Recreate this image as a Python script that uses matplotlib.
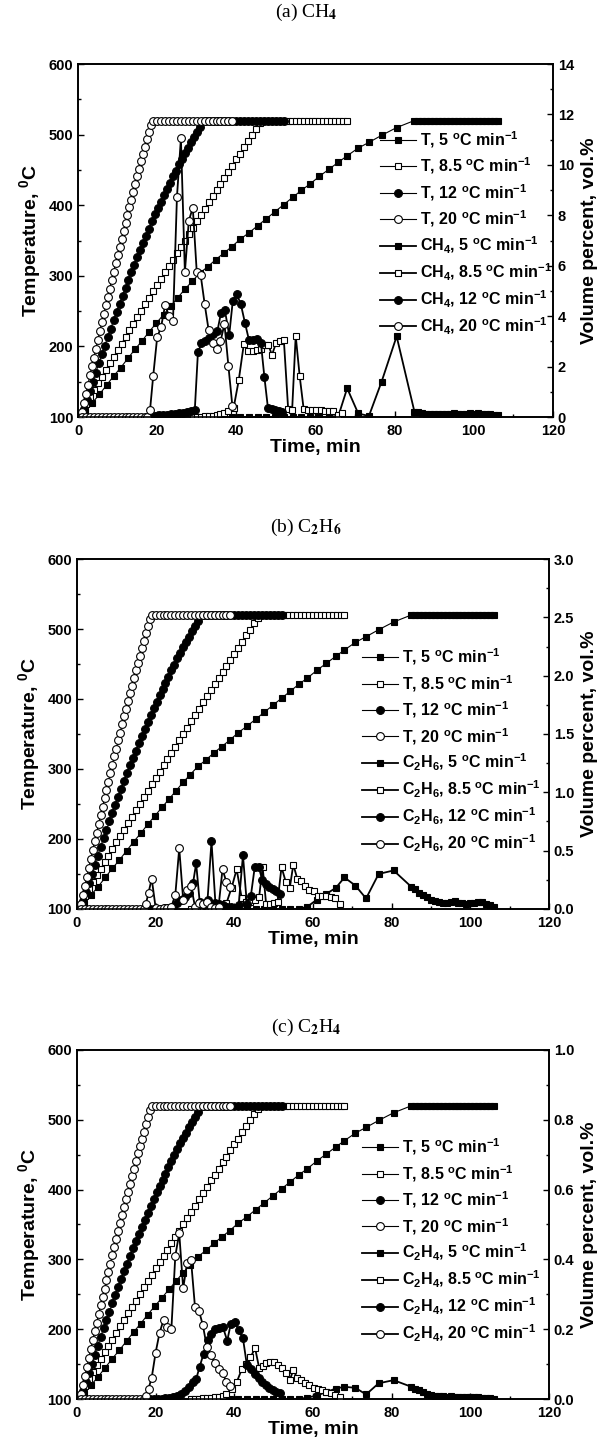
import matplotlib
matplotlib.use('Agg')
import matplotlib.pyplot as plt
from matplotlib.ticker import MultipleLocator, FormatStrFormatter

plt.rcParams['font.family'] = ['Liberation Sans', 'DejaVu Sans']
plt.rcParams['font.weight'] = 'bold'
plt.rcParams['mathtext.fontset'] = 'custom'
plt.rcParams['mathtext.rm'] = 'Liberation Sans:bold'
plt.rcParams['mathtext.it'] = 'Liberation Sans:bold'
plt.rcParams['mathtext.bf'] = 'Liberation Sans:bold'
plt.rcParams['axes.linewidth'] = 1.2

# temperature programmes (same in all three panels)
t_T5 = [1.8, 3.6, 5.4, 7.2, 9.0, 10.8, 12.6, 14.4, 16.2, 18.0, 19.8, 21.6, 23.4, 25.2, 27.0,
        28.8, 30.8, 32.8, 34.8, 36.8, 38.8, 41.0, 43.2, 45.4, 47.6, 49.8, 52.0, 54.2, 56.4,
        58.6, 61.0, 63.4, 65.8, 68.0, 70.8, 73.5, 76.7, 80.5, 85.0,
        86, 87, 88, 89, 90, 91, 92, 93, 94, 95, 96, 97, 98, 99, 100, 101, 102, 103, 104, 105, 106]
T5 = [107, 120, 132, 145, 158, 170, 183, 196, 208, 221, 233, 245, 257, 269, 281, 292, 304,
      313, 323, 332, 341, 352, 361, 371, 381, 391, 401, 411, 421, 430, 441, 451, 461, 470,
      481, 489, 499, 510, 520,
      520, 520, 520, 520, 520, 520, 520, 520, 520, 520, 520, 520, 520, 520, 520, 520, 520,
      520, 520, 520, 520]

t_T85 = [2, 3, 4, 5, 6, 7, 8, 9, 10, 11, 12, 13, 14, 15, 16, 17, 18, 19, 20, 21, 22, 23, 24,
         25, 26, 27, 28, 29, 30, 31, 32, 33, 34, 35, 36, 37, 38, 39, 40, 41, 42, 43, 44, 45, 46,
         47, 48, 49, 50, 51, 52, 53, 54, 55, 56, 57, 58, 59, 60, 61, 62, 63, 64, 65, 66, 67, 68]
T85 = [119, 129, 138, 148, 157, 167, 176, 185, 195, 204, 213, 223, 232, 241, 250, 260, 269,
       278, 287, 296, 305, 314, 323, 332, 341, 350, 359, 368, 377, 386, 395, 404, 413, 421,
       430, 439, 447, 456, 465, 473, 482, 491, 499, 508, 516,
       520, 520, 520, 520, 520, 520, 520, 520, 520, 520, 520, 520, 520, 520, 520, 520, 520,
       520, 520, 520, 520, 520]

t_T12 = [1.5, 2.25, 3.0, 3.75, 4.5, 5.25, 6.0, 6.75, 7.5, 8.25, 9.0, 9.75, 10.5, 11.25, 12.0,
         12.75, 13.5, 14.25, 15.0, 15.75, 16.5, 17.25, 18.0, 18.75, 19.5, 20.25, 21.0, 21.75,
         22.5, 23.25, 24.0, 24.75, 25.5, 26.25, 27.0, 27.75, 28.5, 29.25, 30.0, 30.75,
         32, 33, 34, 35, 36, 37, 38, 39, 40, 41, 42, 43, 44, 45, 46, 47, 48, 49, 50, 51, 52]
T12 = [111, 124, 137, 150, 163, 176, 189, 201, 213, 225, 237, 249, 260, 272, 283, 294, 305,
       316, 326, 337, 347, 357, 367, 377, 387, 396, 405, 414, 423, 432, 441, 449, 458, 466,
       474, 481, 489, 497, 504, 511,
       520, 520, 520, 520, 520, 520, 520, 520, 520, 520, 520, 520, 520, 520, 520, 520, 520,
       520, 520, 520, 520]

t_T20 = [1.0, 1.5, 2.0, 2.5, 3.0, 3.5, 4.0, 4.5, 5.0, 5.5, 6.0, 6.5, 7.0, 7.5, 8.0, 8.5, 9.0,
         9.5, 10.0, 10.5, 11.0, 11.5, 12.0, 12.5, 13.0, 13.5, 14.0, 14.5, 15.0, 15.5, 16.0,
         16.5, 17.0, 17.5, 18.0, 18.5,
         19, 20, 21, 22, 23, 24, 25, 26, 27, 28, 29, 30, 31, 32, 33, 34, 35, 36, 37, 38, 39]
T20 = [107, 120, 133, 146, 159, 172, 184, 197, 209, 222, 234, 246, 258, 270, 282, 294, 306,
       318, 329, 341, 352, 364, 375, 386, 397, 408, 419, 430, 441, 452, 462, 473, 483, 494,
       504, 514,
       520, 520, 520, 520, 520, 520, 520, 520, 520, 520, 520, 520, 520, 520, 520, 520, 520,
       520, 520, 520, 520]

# gas sampling times
t_gas5 = [38.8, 41.0, 43.2, 45.4, 47.6, 49.8, 52.0, 54.2, 56.4, 58.6, 61.0, 63.4, 65.8, 68.0,
          70.8, 73.5, 76.7, 80.5, 85.0,
          86, 87, 88, 89, 90, 91, 92, 93, 94, 95, 96, 97, 98, 99, 100, 101, 102, 103, 104, 105, 106]
t_gas85 = [29, 30, 31, 32, 33, 34, 35, 36, 37, 38, 39.3, 40.6, 41.9, 43.0, 44.1, 45.3, 46.3,
           47.2, 48.1, 49.0, 50.0, 51.0, 52.0, 53.1, 54.1, 55.0, 56.0, 57.0, 58.1, 59.1, 60.2,
           61.3, 62.3, 63.4, 64.5, 65.6, 66.8]
t_gas12 = [18.5, 19.5, 20.5, 21.5, 22.5, 23.5, 24.5, 25.5, 26.5, 27.5, 28.5, 29.5, 30.3, 31.2,
           32.2, 33.2, 34.2, 35.2, 36.1, 37.1, 38.2, 39.1, 40.1, 41.1, 42.2, 43.2, 44.2, 45.2,
           46.2, 47.1, 48.0, 48.9, 49.8, 50.7, 51.6]
t_gas20 = [1, 2, 3, 4, 5, 6, 7, 8, 9, 10, 11, 12, 13, 14, 15, 16, 17, 17.5, 18.2, 19, 20, 21,
           22, 23, 24, 25, 26, 27, 28, 29, 30, 31, 32, 33, 34, 35, 36, 37, 38, 39]

# (a) CH4, vol.%
ch4_5 = [0, 0, 0, 0, 0, 0, 0, 0, 0, 0, 0, 0, 0.05, 1.14, 0.14, 0.04, 1.4, 3.2, 0.21,
         0.18, 0.15, 0.13, 0.12, 0.1, 0.1, 0.12, 0.13, 0.12, 0.14, 0.12, 0.1, 0.12, 0.14,
         0.13, 0.15, 0.12, 0.13, 0.1, 0.08, 0.07]
ch4_85 = [0.0, 0.01, 0.02, 0.03, 0.04, 0.05, 0.07, 0.1, 0.15, 0.22, 0.35, 1.45, 2.9, 2.6,
          2.62, 2.66, 2.7, 2.87, 2.86, 2.46, 2.92, 3.0, 3.07, 0.3, 0.28, 3.22, 1.63, 0.33,
          0.28, 0.27, 0.26, 0.26, 0.25, 0.25, 0.24, 0.08, 0.17]
ch4_12 = [0.05, 0.06, 0.07, 0.08, 0.09, 0.1, 0.12, 0.14, 0.16, 0.19, 0.22, 0.26, 2.57, 2.92,
          3.03, 3.12, 3.3, 3.4, 4.11, 4.24, 3.25, 4.6, 4.86, 4.5, 3.72, 3.05, 3.05, 3.08,
          2.95, 1.57, 0.34, 0.3, 0.27, 0.24, 0.21]
ch4_20 = [0, 0, 0, 0, 0, 0, 0, 0, 0, 0, 0, 0, 0, 0, 0, 0, 0, 0.0, 0.28, 1.63, 3.16, 3.58,
          4.43, 4.02, 3.82, 8.74, 11.05, 5.75, 7.79, 8.3, 5.75, 5.62, 4.48, 3.45, 2.92, 2.68,
          3.0, 3.69, 2.02, 0.44]

# (b) C2H6, vol.%
c2h6_5 = [0, 0, 0, 0, 0, 0, 0, 0, 0, 0.02, 0.08, 0.13, 0.18, 0.27, 0.2, 0.09, 0.3, 0.33, 0.19,
          0.17, 0.14, 0.12, 0.1, 0.08, 0.07, 0.06, 0.05, 0.05, 0.06, 0.07, 0.05, 0.05, 0.04,
          0.05, 0.05, 0.06, 0.06, 0.04, 0.03, 0.02]
c2h6_85 = [0.0, 0.0, 0.0, 0.01, 0.01, 0.01, 0.02, 0.02, 0.03, 0.05, 0.18, 0.34, 0.09, 0.06,
           0.06, 0.08, 0.1, 0.36, 0.04, 0.04, 0.05, 0.06, 0.36, 0.23, 0.18, 0.38, 0.26, 0.24,
           0.2, 0.16, 0.15, 0.11, 0.11, 0.11, 0.1, 0.09, 0.04]
c2h6_12 = [0.0, 0.0, 0.0, 0.0, 0.01, 0.01, 0.02, 0.05, 0.08, 0.1, 0.14, 0.22, 0.39, 0.06,
           0.03, 0.08, 0.58, 0.05, 0.04, 0.03, 0.02, 0.02, 0.01, 0.03, 0.46, 0.04, 0.11, 0.36,
           0.36, 0.25, 0.21, 0.19, 0.17, 0.15, 0.13]
c2h6_20 = [0, 0, 0, 0, 0, 0, 0, 0, 0, 0, 0, 0, 0, 0, 0, 0, 0, 0.04, 0.14, 0.26, 0.01, 0.0,
           0.01, 0.01, 0.02, 0.12, 0.52, 0.08, 0.16, 0.2, 0.02, 0.05, 0.04, 0.06, 0.02, 0.01,
           0.02, 0.34, 0.23, 0.19]

# (c) C2H4, vol.%
c2h4_5 = [0, 0, 0, 0, 0, 0, 0, 0, 0, 0.004, 0.01, 0.02, 0.03, 0.035, 0.032, 0.013, 0.045,
          0.054, 0.035, 0.03, 0.025, 0.02, 0.015, 0.012, 0.01, 0.008, 0.008, 0.006, 0.008,
          0.006, 0.005, 0.005, 0.006, 0.005, 0.006, 0.005, 0.004, 0.003, 0.002, 0.001]
c2h4_85 = [0.0, 0.0, 0.001, 0.002, 0.003, 0.004, 0.005, 0.007, 0.01, 0.015, 0.03, 0.048,
           0.085, 0.1, 0.12, 0.145, 0.09, 0.095, 0.104, 0.107, 0.105, 0.097, 0.088, 0.075,
           0.054, 0.083, 0.06, 0.054, 0.046, 0.04, 0.032, 0.028, 0.025, 0.02, 0.017, 0.012,
           0.007]
c2h4_12 = [0.0, 0.0, 0.0, 0.001, 0.002, 0.003, 0.005, 0.008, 0.013, 0.022, 0.035, 0.048,
           0.057, 0.093, 0.13, 0.169, 0.185, 0.2, 0.204, 0.206, 0.167, 0.215, 0.221, 0.198,
           0.174, 0.097, 0.085, 0.072, 0.059, 0.049, 0.04, 0.032, 0.026, 0.021, 0.017]
c2h4_20 = [0, 0, 0, 0, 0, 0, 0, 0, 0, 0, 0, 0, 0, 0, 0, 0, 0, 0.01, 0.03, 0.061, 0.133, 0.19,
           0.226, 0.207, 0.2, 0.41, 0.475, 0.317, 0.39, 0.398, 0.264, 0.253, 0.212, 0.15,
           0.126, 0.104, 0.085, 0.074, 0.05, 0.037]

rates = ['5', '8.5', '12', '20']
styles = [('s', 'k', 5.0), ('s', 'w', 5.0), ('o', 'k', 5.6), ('o', 'w', 5.6)]
temp_t = [t_T5, t_T85, t_T12, t_T20]
temp_v = [T5, T85, T12, T20]
gas_t = [t_gas5, t_gas85, t_gas12, t_gas20]

fig = plt.figure(figsize=(6.08, 14.52), dpi=100)


def draw_panel(rect, title, title_y, gas, gas_series, vmax, vmajor, vfmt, leg_xy):
    ax = fig.add_axes(rect)
    ax2 = ax.twinx()
    lines_T = []
    lines_g = []
    for i in range(4):
        m, fc, ms = styles[i]
        l, = ax.plot(temp_t[i], temp_v[i], marker=m, ms=ms, mfc=fc, mec='k', mew=0.8,
                     color='k', lw=0.8, label=r'T, %s $^o$C min$^{-1}$' % rates[i])
        lines_T.append(l)
    for i in range(4):
        m, fc, ms = styles[i]
        l, = ax2.plot(gas_t[i], gas_series[i], marker=m, ms=ms, mfc=fc, mec='k', mew=0.8,
                      color='k', lw=1.3, label=r'%s, %s $^o$C min$^{-1}$' % (gas, rates[i]))
        lines_g.append(l)

    ax.set_xlim(0, 120)
    ax.set_ylim(100, 600)
    ax.xaxis.set_major_locator(MultipleLocator(20))
    ax.xaxis.set_minor_locator(MultipleLocator(10))
    ax.yaxis.set_major_locator(MultipleLocator(100))
    ax.yaxis.set_minor_locator(MultipleLocator(50))
    ax2.set_ylim(0, vmax)
    ax2.yaxis.set_major_locator(MultipleLocator(vmajor))
    ax2.yaxis.set_minor_locator(MultipleLocator(vmajor / 2))
    ax2.yaxis.set_major_formatter(FormatStrFormatter(vfmt))

    for a in (ax, ax2):
        a.tick_params(which='both', direction='in', labelsize=10.5, width=1.0)
        a.tick_params(which='major', length=4.5)
        a.tick_params(which='minor', length=2.5)
    ax.tick_params(axis='x', which='major', pad=5)
    ax.set_xlabel('Time, min', fontsize=14, fontweight='bold', labelpad=1)
    ax.set_ylabel(r'Temperature, $^0$C', fontsize=14, fontweight='bold', labelpad=4)
    ax2.set_ylabel('Volume percent, vol.%', fontsize=14, fontweight='bold', labelpad=5)

    ax2.legend(handles=lines_T + lines_g, loc='upper left', bbox_to_anchor=leg_xy,
               frameon=False, fontsize=11.5, handlelength=2.3, handletextpad=0.2,
               labelspacing=0.36, borderaxespad=0, borderpad=0)

    t = fig.text(0.503, title_y, title, ha='center', va='center', fontsize=14,
                 family=['Liberation Serif', 'DejaVu Serif'], fontweight='normal')
    t.set_math_fontfamily('stix')


draw_panel([0.1283, 0.7128, 0.7812, 0.2431], r'(a) CH$_4$', 0.9917, r'CH$_4$',
           [ch4_5, ch4_85, ch4_12, ch4_20], 14, 2, '%d', (0.635, 0.815))
draw_panel([0.1266, 0.3740, 0.7763, 0.2410], r'(b) C$_2$H$_6$', 0.637, r'C$_2$H$_6$',
           [c2h6_5, c2h6_85, c2h6_12, c2h6_20], 3.0, 0.5, '%.1f', (0.603, 0.75))
draw_panel([0.1266, 0.0365, 0.7763, 0.2404], r'(c) C$_2$H$_4$', 0.2927, r'C$_2$H$_4$',
           [c2h4_5, c2h4_85, c2h4_12, c2h4_20], 1.0, 0.2, '%.1f', (0.603, 0.752))

fig.savefig('out.png', dpi=100)
